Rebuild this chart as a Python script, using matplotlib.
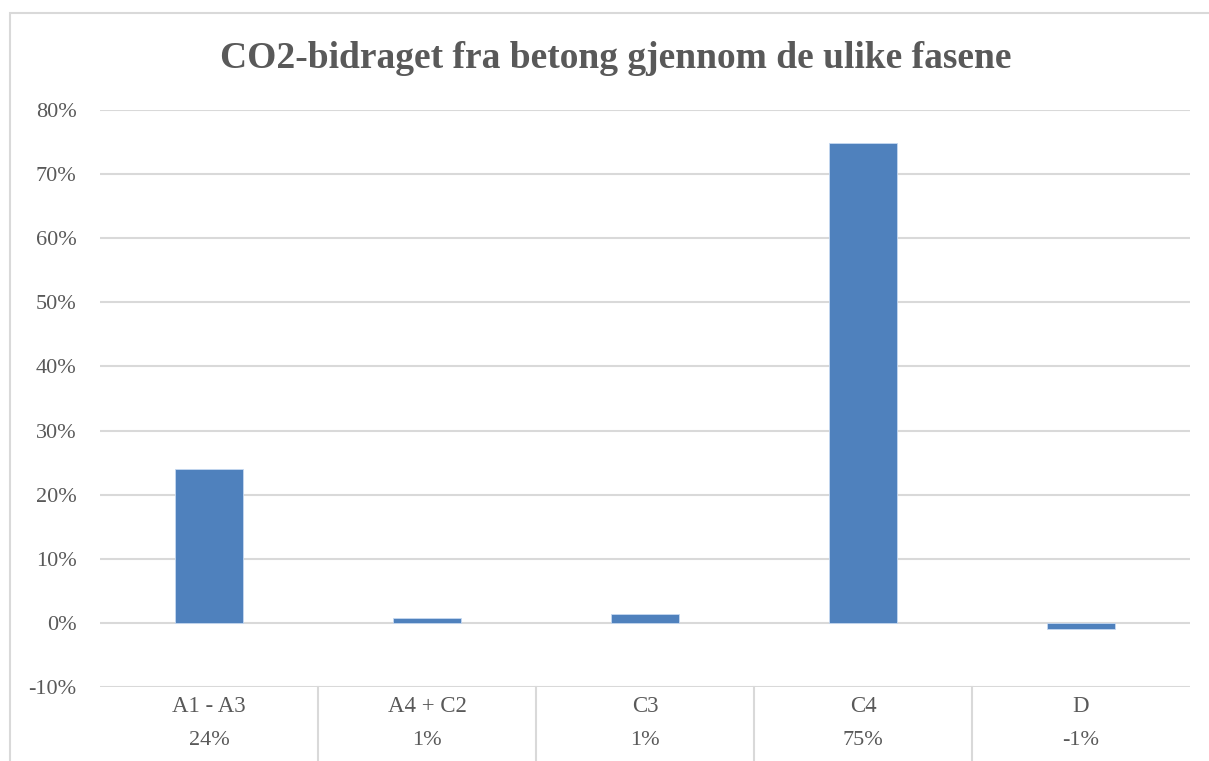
import numpy as np
import matplotlib.pyplot as plt
from matplotlib.patches import Rectangle
from matplotlib.lines import Line2D
from matplotlib.ticker import FuncFormatter

plt.rcParams['font.family'] = ['Liberation Serif', 'DejaVu Serif']

phases = ["A1 - A3", "A4 + C2", "C3", "C4", "D"]
shares = [24.0, 0.7, 1.4, 74.8, -0.9]   # percent of total CO2
yticks = list(range(-10, 90, 10))

grey_text = "#595959"
grid_col = "#d9d9d9"
bar_col = "#4f81bd"

W, H = 1209, 761
fig = plt.figure(figsize=(W / 100, H / 100), dpi=100)

# chart frame
fig.patches.append(Rectangle((10 / W, -0.05), 1.05, 1 - 13 / H + 0.05,
                             transform=fig.transFigure, fill=False,
                             edgecolor=grid_col, linewidth=1.5))

ax = fig.add_axes([100 / W, 1 - 687 / H, (1190 - 100) / W, (687 - 110) / H])

x = np.arange(len(phases))
ax.bar(x, shares, width=0.31, color=bar_col, edgecolor="#c6d9f1",
       linewidth=0.6, zorder=3)

ax.set_xlim(-0.5, len(phases) - 0.5)
ax.set_ylim(-10, 80)
ax.set_yticks(yticks)
ax.yaxis.set_major_formatter(FuncFormatter(lambda v, p: f"{v:.0f}%"))
ax.tick_params(axis="y", length=0, pad=17, labelsize=16, labelcolor=grey_text)
ax.set_xticks([])
ax.grid(axis="y", color=grid_col, linewidth=1.5, zorder=0)
for s in ax.spines.values():
    s.set_visible(False)

# data table under the axis: category row and value row
trans = ax.get_xaxis_transform()
for i, (name, val) in enumerate(zip(phases, shares)):
    ax.text(i, -0.033, name, transform=trans, ha="center",
            va="center", fontsize=16.5, color=grey_text)
    ax.text(i, -0.092, f"{val:.0f}%", transform=trans, ha="center", va="center",
            fontsize=16, color=grey_text)
for i in range(1, len(phases)):
    ax.add_line(Line2D([i - 0.5, i - 0.5], [0, -0.14], transform=trans,
                       color=grid_col, linewidth=1.5, clip_on=False))

fig.text(616 / W, 1 - 58 / H, "CO2-bidraget fra betong gjennom de ulike fasene",
         ha="center", va="center", fontsize=27, fontweight="bold",
         color=grey_text)

fig.savefig("out.png", dpi=100)
